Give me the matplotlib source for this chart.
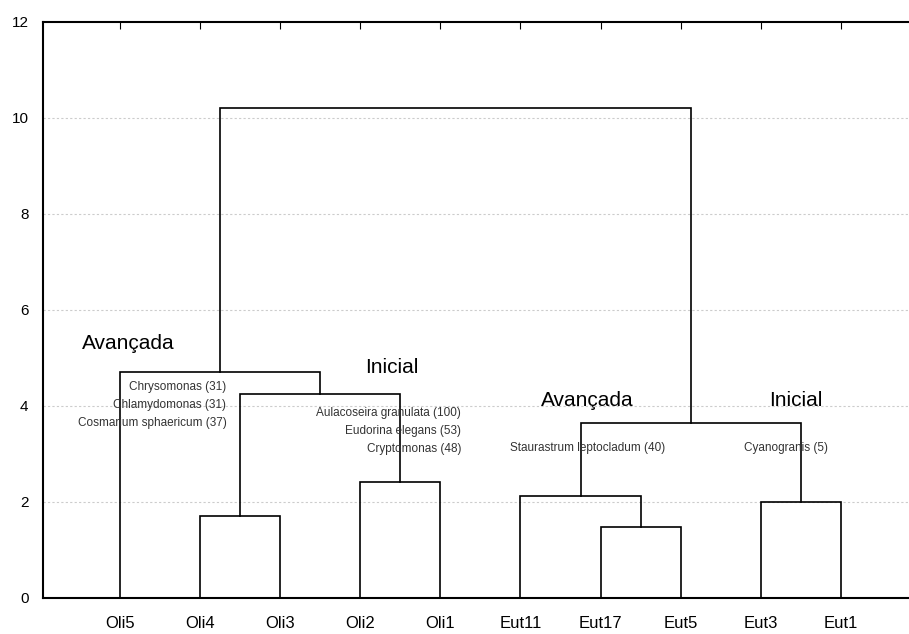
import matplotlib
matplotlib.use("Agg")
import matplotlib.pyplot as plt

plt.rcParams['font.family'] = ['Liberation Sans', 'DejaVu Sans']

# Leaves (left to right)
leaves = ["Oli5", "Oli4", "Oli3", "Oli2", "Oli1", "Eut11", "Eut17", "Eut5", "Eut3", "Eut1"]
# Merges: (left node, right node, height); nodes are leaf names or merge ids "m#"
merges = [
    ("Oli4", "Oli3", 1.71),    # m0
    ("Oli2", "Oli1", 2.42),    # m1
    ("m0", "m1", 4.25),        # m2
    ("Oli5", "m2", 4.71),      # m3
    ("Eut17", "Eut5", 1.48),   # m4
    ("Eut11", "m4", 2.13),     # m5
    ("Eut3", "Eut1", 2.00),    # m6
    ("m5", "m6", 3.65),        # m7
    ("m3", "m7", 10.2),        # m8
]
group_labels = ["Avançada", "Inicial", "Avançada", "Inicial"]
group_pos = [(1.1, 5.3), (4.39, 4.8), (6.83, 4.12), (9.44, 4.12)]
species_labels = [
    ["Chrysomonas (31)", "Chlamydomonas (31)", "Cosmarium sphaericum (37)"],
    ["Aulacoseira granulata (100)", "Eudorina elegans (53)", "Cryptomonas (48)"],
    ["Staurastrum leptocladum (40)"],
    ["Cyanogranis (5)"],
]
yticks = [0, 2, 4, 6, 8, 10, 12]

fig = plt.figure(figsize=(9.09, 6.34), dpi=100)
ax = fig.add_axes([0.0473, 0.0568, 0.9527, 0.9085])

pos = {name: i + 1 for i, name in enumerate(leaves)}
hgt = {name: 0.0 for name in leaves}
for k, (a, b, h) in enumerate(merges):
    xa, xb = pos[a], pos[b]
    ax.plot([xa, xa, xb, xb], [hgt[a], h, h, hgt[b]], color="black", lw=1.2,
            solid_joinstyle="miter", zorder=3)
    pos[f"m{k}"] = (xa + xb) / 2
    hgt[f"m{k}"] = h

ax.set_xlim(0.04, 10.85)
ax.set_ylim(0, 12)
ax.set_yticks(yticks)
ax.set_yticklabels([str(v) for v in yticks], fontsize=11)
ax.set_xticks(range(1, len(leaves) + 1))
ax.set_xticklabels(leaves, fontsize=12)
ax.tick_params(axis="x", which="both", bottom=False, top=True, direction="in",
               length=5, pad=13)
ax.tick_params(axis="y", which="both", left=False, right=False, pad=7)
ax.spines["right"].set_visible(False)
for s in ["left", "top", "bottom"]:
    ax.spines[s].set_linewidth(1.5)
for v in yticks[1:-1]:
    ax.axhline(v, color="#cccccc", lw=0.8, ls=(0, (2, 2)), zorder=1)

for txt, (x, y) in zip(group_labels, group_pos):
    ax.text(x, y, txt, fontsize=15, ha="center", va="center", zorder=4)

sp_cfg = [(2.33, [4.4, 4.02, 3.65], "right"),
          (5.26, [3.85, 3.48, 3.1], "right"),
          (6.84, [3.12], "center"),
          (9.31, [3.12], "center")]
for lines, (x, ys, ha) in zip(species_labels, sp_cfg):
    for t, y in zip(lines, ys):
        ax.text(x, y, t, fontsize=8.5, ha=ha, va="center", color="#333333",
                zorder=4)

fig.savefig("out.png", dpi=100)
